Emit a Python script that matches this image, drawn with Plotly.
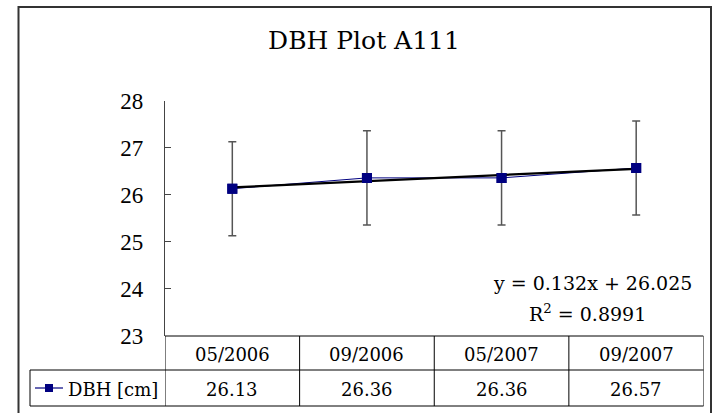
import plotly.graph_objects as go

# --- data ---
dates = ["05/2006", "09/2006", "05/2007", "09/2007"]
dbh = [26.13, 26.36, 26.36, 26.57]
dbh_err = [1.0, 1.0, 1.0, 1.0]
x_idx = [1, 2, 3, 4]
trend_slope = 0.132
trend_icept = 26.025
r_squared = 0.8991
y_ticks = [23, 24, 25, 26, 27, 28]
series_name = "DBH [cm]"

W, H = 715, 413


def px(x):
    return x / W


def py(y):
    return 1 - y / H


trend_y = [trend_slope * x + trend_icept for x in x_idx]

TEXT_FONT = "DejaVu Serif"
TICK_FONT = "Liberation Serif"
NAVY = "#000080"

fig = go.Figure()

# series line with error bars
fig.add_trace(go.Scatter(
    x=x_idx, y=dbh, mode="lines+markers", name=series_name,
    line=dict(color=NAVY, width=1),
    marker=dict(symbol="square", size=10, color=NAVY),
    error_y=dict(type="data", array=dbh_err, visible=True,
                 color="#555555", thickness=1.5, width=4),
    showlegend=False,
))

# linear trendline
fig.add_trace(go.Scatter(
    x=x_idx, y=trend_y, mode="lines", showlegend=False,
    line=dict(color="black", width=2.2), hoverinfo="skip",
))

# markers redrawn above the trendline
fig.add_trace(go.Scatter(
    x=x_idx, y=dbh, mode="markers", showlegend=False,
    marker=dict(symbol="square", size=10, color=NAVY),
))

shapes = []
# chart border
shapes.append(dict(type="rect", xref="paper", yref="paper",
                   x0=px(18.5), x1=px(711), y0=-0.1, y1=py(7),
                   line=dict(color="#333333", width=2)))

# data table grid
tbl_top, tbl_mid, tbl_bot = 336, 370, 406
line_style = dict(color="black", width=1)
for xb in [0.5, 1.5, 2.5, 3.5, 4.5]:
    shapes.append(dict(type="line", xref="x", yref="paper",
                       x0=xb, x1=xb, y0=py(tbl_top), y1=py(tbl_bot),
                       line=line_style))
shapes.append(dict(type="line", xref="x", yref="paper",
                   x0=0.5, x1=4.5, y0=py(tbl_top), y1=py(tbl_top),
                   line=line_style))
for yb in [tbl_mid, tbl_bot]:
    shapes.append(dict(type="line", xref="paper", yref="paper",
                       x0=px(30), x1=px(703.5), y0=py(yb), y1=py(yb),
                       line=line_style))
shapes.append(dict(type="line", xref="paper", yref="paper",
                   x0=px(30), x1=px(30), y0=py(tbl_mid), y1=py(tbl_bot),
                   line=line_style))

# legend key inside the table's first cell
key_y = 388
shapes.append(dict(type="line", xref="paper", yref="paper",
                   x0=px(35), x1=px(63), y0=py(key_y), y1=py(key_y),
                   line=dict(color=NAVY, width=1.2)))
shapes.append(dict(type="rect", xref="paper", yref="paper",
                   x0=px(45), x1=px(53), y0=py(key_y + 4), y1=py(key_y - 4),
                   fillcolor=NAVY, line=dict(width=0)))

annotations = []
annotations.append(dict(x=px(66), y=py(389), xref="paper", yref="paper",
                        text=series_name, showarrow=False,
                        xanchor="left", yanchor="middle",
                        font=dict(family=TEXT_FONT, size=18, color="black")))
for xi, d, v in zip(x_idx, dates, dbh):
    annotations.append(dict(x=xi, y=py(354), xref="x", yref="paper",
                            text=d, showarrow=False, yanchor="middle",
                            font=dict(family=TEXT_FONT, size=18, color="black")))
    annotations.append(dict(x=xi, y=py(389), xref="x", yref="paper",
                            text=f"{v:.2f}", showarrow=False, yanchor="middle",
                            font=dict(family=TEXT_FONT, size=18, color="black")))

# trendline equation
annotations.append(dict(x=px(694), y=py(283), xref="paper", yref="paper",
                        text=f"y = {trend_slope}x + {trend_icept}",
                        showarrow=False, xanchor="right", yanchor="middle",
                        font=dict(family=TEXT_FONT, size=19, color="black")))
annotations.append(dict(x=px(648), y=py(313), xref="paper", yref="paper",
                        text=f"R<sup>2</sup> = {r_squared}",
                        showarrow=False, xanchor="right", yanchor="middle",
                        font=dict(family=TEXT_FONT, size=19, color="black")))

fig.update_layout(
    width=W, height=H,
    margin=dict(l=0, r=0, t=0, b=0),
    paper_bgcolor="white", plot_bgcolor="white",
    title=dict(text="DBH Plot A111", x=px(364), y=py(40),
               xanchor="center", yanchor="middle",
               font=dict(family=TEXT_FONT, size=25, color="black")),
    xaxis=dict(domain=[px(165), px(703.5)], range=[0.5, 4.5],
               showticklabels=False, ticks="", showgrid=False,
               zeroline=False, showline=False, automargin=False),
    yaxis=dict(domain=[py(336), py(100.7)], range=[23, 28],
               tickvals=y_ticks, ticks="inside", ticklen=6,
               tickcolor="#444444", tickwidth=1.2,
               showline=True, linecolor="#444444", linewidth=1.3,
               showgrid=False, zeroline=False, automargin=False,
               tickfont=dict(family=TICK_FONT, size=23, color="black"),
               ticklabelstandoff=16),
    showlegend=False,
    shapes=shapes,
    annotations=annotations,
)

fig.write_html("out.html")
